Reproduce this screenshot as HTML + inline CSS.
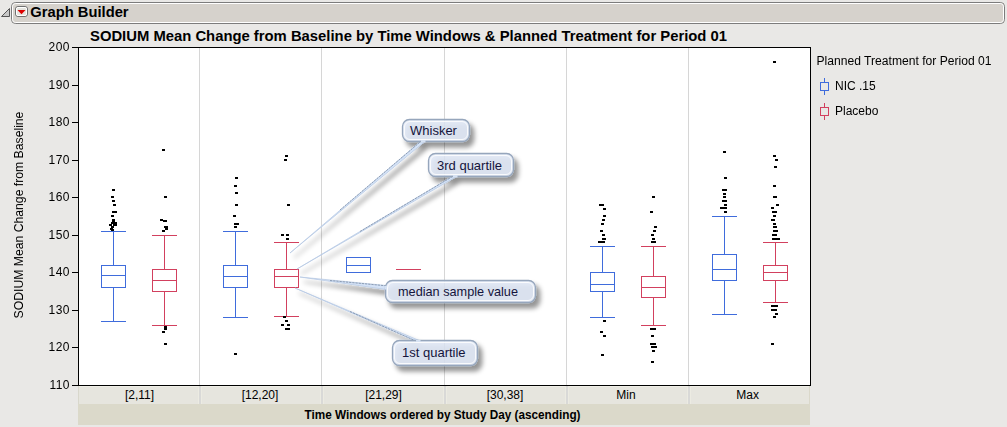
<!DOCTYPE html>
<html><head><meta charset="utf-8">
<style>
html,body{margin:0;padding:0;}
body{width:1007px;height:427px;overflow:hidden;background:#e9e8e6;position:relative;font-family:"Liberation Sans",Arial,sans-serif;}
svg{position:absolute;left:0;top:0;}
svg text{font-family:"Liberation Sans",Arial,sans-serif;}
</style></head><body>
<svg width="1007" height="427" viewBox="0 0 1007 427">
<defs>
  <filter id="sh" x="-20%" y="-30%" width="150%" height="180%">
    <feGaussianBlur in="SourceAlpha" stdDeviation="2.6"/>
    <feOffset dx="3.5" dy="4.5" result="b"/>
    <feComponentTransfer><feFuncA type="linear" slope="0.5"/></feComponentTransfer>
    <feMerge><feMergeNode/><feMergeNode in="SourceGraphic"/></feMerge>
  </filter>
</defs>
<!-- header -->
<path d="M1.5 16.5 L9.5 8.5 L9.5 16.5 Z" fill="#c8c8c8" stroke="#555" stroke-width="1"/>
<rect x="11.5" y="2.5" width="993" height="21" rx="4" fill="#d6d2cc" stroke="#7c7c7c" stroke-width="1"/>
<rect x="12.5" y="3.5" width="991" height="19" rx="3" fill="none" stroke="#fff" stroke-width="1"/>
<rect x="15.5" y="6.5" width="12" height="10" rx="2.5" fill="#e6e4de" stroke="#707070" stroke-width="1"/>
<rect x="16.5" y="7.5" width="10" height="8" rx="1.5" fill="none" stroke="#fff" stroke-width="1"/>
<path d="M17.5 10 L25.5 10 L21.5 14.3 Z" fill="#dd0000"/>
<text x="30.3" y="16.7" font-size="15" font-weight="bold" fill="#000" textLength="98.3" lengthAdjust="spacingAndGlyphs">Graph Builder</text>

<!-- chart title -->
<text x="90" y="41" font-size="15" font-weight="bold" fill="#000" textLength="637" lengthAdjust="spacingAndGlyphs">SODIUM Mean Change from Baseline by Time Windows &amp; Planned Treatment for Period 01</text>

<!-- plot area -->
<rect x="78" y="47" width="732" height="338" fill="#fff"/>
<g stroke="#d6d6d6" stroke-width="1" shape-rendering="crispEdges">
  <line x1="199.5" y1="48" x2="199.5" y2="385"/>
  <line x1="321.5" y1="48" x2="321.5" y2="385"/>
  <line x1="444.5" y1="48" x2="444.5" y2="385"/>
  <line x1="566.5" y1="48" x2="566.5" y2="385"/>
  <line x1="688.5" y1="48" x2="688.5" y2="385"/>
</g>

<!-- x label row -->
<rect x="78" y="386" width="732" height="18" fill="#e6e5de"/>
<g shape-rendering="crispEdges">
<rect x="79" y="386" width="730" height="1" fill="#efeee6"/>
<rect x="78" y="386" width="1" height="18" fill="#d8d7cc"/>
<rect x="809" y="386" width="1" height="18" fill="#dad8ca"/>
<rect x="198" y="386" width="1" height="19" fill="#ecebe2"/><rect x="199" y="386" width="2" height="19" fill="#d9d9d7"/><rect x="201" y="386" width="1" height="19" fill="#ecebe2"/>
<rect x="320" y="386" width="1" height="19" fill="#ecebe2"/><rect x="321" y="386" width="2" height="19" fill="#d9d9d7"/><rect x="323" y="386" width="1" height="19" fill="#ecebe2"/>
<rect x="443" y="386" width="1" height="19" fill="#ecebe2"/><rect x="444" y="386" width="2" height="19" fill="#d9d9d7"/><rect x="446" y="386" width="1" height="19" fill="#ecebe2"/>
<rect x="565" y="386" width="1" height="19" fill="#ecebe2"/><rect x="566" y="386" width="2" height="19" fill="#d9d9d7"/><rect x="568" y="386" width="1" height="19" fill="#ecebe2"/>
<rect x="687" y="386" width="1" height="19" fill="#ecebe2"/><rect x="688" y="386" width="2" height="19" fill="#d9d9d7"/><rect x="690" y="386" width="1" height="19" fill="#ecebe2"/>
</g>
<rect x="78" y="404" width="732" height="21" fill="#dbd9ca"/>

<g style="will-change:transform">
<text x="69.7" y="389.2" font-size="12" text-anchor="end" fill="#000" letter-spacing="0.35">110</text>
<text x="69.7" y="351.2" font-size="12" text-anchor="end" fill="#000" letter-spacing="0.35">120</text>
<text x="69.7" y="314.2" font-size="12" text-anchor="end" fill="#000" letter-spacing="0.35">130</text>
<text x="69.7" y="276.2" font-size="12" text-anchor="end" fill="#000" letter-spacing="0.35">140</text>
<text x="69.7" y="239.2" font-size="12" text-anchor="end" fill="#000" letter-spacing="0.35">150</text>
<text x="69.7" y="201.2" font-size="12" text-anchor="end" fill="#000" letter-spacing="0.35">160</text>
<text x="69.7" y="164.2" font-size="12" text-anchor="end" fill="#000" letter-spacing="0.35">170</text>
<text x="69.7" y="126.2" font-size="12" text-anchor="end" fill="#000" letter-spacing="0.35">180</text>
<text x="69.7" y="89.2" font-size="12" text-anchor="end" fill="#000" letter-spacing="0.35">190</text>
<text x="69.7" y="51.2" font-size="12" text-anchor="end" fill="#000" letter-spacing="0.35">200</text>
</g>
<line x1="72" y1="385.5" x2="78" y2="385.5" stroke="#000" shape-rendering="crispEdges"/>
<line x1="72" y1="347.5" x2="78" y2="347.5" stroke="#000" shape-rendering="crispEdges"/>
<line x1="72" y1="310.5" x2="78" y2="310.5" stroke="#000" shape-rendering="crispEdges"/>
<line x1="72" y1="272.5" x2="78" y2="272.5" stroke="#000" shape-rendering="crispEdges"/>
<line x1="72" y1="235.5" x2="78" y2="235.5" stroke="#000" shape-rendering="crispEdges"/>
<line x1="72" y1="197.5" x2="78" y2="197.5" stroke="#000" shape-rendering="crispEdges"/>
<line x1="72" y1="160.5" x2="78" y2="160.5" stroke="#000" shape-rendering="crispEdges"/>
<line x1="72" y1="122.5" x2="78" y2="122.5" stroke="#000" shape-rendering="crispEdges"/>
<line x1="72" y1="85.5" x2="78" y2="85.5" stroke="#000" shape-rendering="crispEdges"/>
<line x1="72" y1="47.5" x2="78" y2="47.5" stroke="#000" shape-rendering="crispEdges"/>
<g shape-rendering="crispEdges" stroke-width="1">
<rect x="101.5" y="265.5" width="24" height="22" fill="none" stroke="#3f6cdc"/>
<line x1="101" y1="275.5" x2="126" y2="275.5" stroke="#3f6cdc"/>
<line x1="113.5" y1="231" x2="113.5" y2="265" stroke="#3f6cdc"/>
<line x1="113.5" y1="288" x2="113.5" y2="321" stroke="#3f6cdc"/>
<line x1="101" y1="231.5" x2="126" y2="231.5" stroke="#3f6cdc"/>
<line x1="101" y1="321.5" x2="126" y2="321.5" stroke="#3f6cdc"/>
<rect x="152.5" y="269.5" width="24" height="22" fill="none" stroke="#d2405e"/>
<line x1="152" y1="280.5" x2="177" y2="280.5" stroke="#d2405e"/>
<line x1="164.5" y1="235" x2="164.5" y2="269" stroke="#d2405e"/>
<line x1="164.5" y1="292" x2="164.5" y2="325" stroke="#d2405e"/>
<line x1="152" y1="235.5" x2="177" y2="235.5" stroke="#d2405e"/>
<line x1="152" y1="325.5" x2="177" y2="325.5" stroke="#d2405e"/>
<rect x="223.5" y="265.5" width="24" height="22" fill="none" stroke="#3f6cdc"/>
<line x1="223" y1="276.5" x2="248" y2="276.5" stroke="#3f6cdc"/>
<line x1="235.5" y1="231" x2="235.5" y2="265" stroke="#3f6cdc"/>
<line x1="235.5" y1="288" x2="235.5" y2="317" stroke="#3f6cdc"/>
<line x1="223" y1="231.5" x2="248" y2="231.5" stroke="#3f6cdc"/>
<line x1="223" y1="317.5" x2="248" y2="317.5" stroke="#3f6cdc"/>
<rect x="274.5" y="269.5" width="24" height="18" fill="none" stroke="#d2405e"/>
<line x1="274" y1="276.5" x2="299" y2="276.5" stroke="#d2405e"/>
<line x1="286.5" y1="242" x2="286.5" y2="269" stroke="#d2405e"/>
<line x1="286.5" y1="288" x2="286.5" y2="316" stroke="#d2405e"/>
<line x1="274" y1="242.5" x2="299" y2="242.5" stroke="#d2405e"/>
<line x1="274" y1="316.5" x2="299" y2="316.5" stroke="#d2405e"/>
<rect x="346.5" y="257.5" width="24" height="15" fill="none" stroke="#3f6cdc"/>
<line x1="346" y1="265.5" x2="371" y2="265.5" stroke="#3f6cdc"/>
<rect x="590.5" y="272.5" width="24" height="19" fill="none" stroke="#3f6cdc"/>
<line x1="590" y1="284.5" x2="615" y2="284.5" stroke="#3f6cdc"/>
<line x1="602.5" y1="246" x2="602.5" y2="272" stroke="#3f6cdc"/>
<line x1="602.5" y1="292" x2="602.5" y2="317" stroke="#3f6cdc"/>
<line x1="590" y1="246.5" x2="615" y2="246.5" stroke="#3f6cdc"/>
<line x1="590" y1="317.5" x2="615" y2="317.5" stroke="#3f6cdc"/>
<rect x="641.5" y="276.5" width="24" height="21" fill="none" stroke="#d2405e"/>
<line x1="641" y1="287.5" x2="666" y2="287.5" stroke="#d2405e"/>
<line x1="653.5" y1="246" x2="653.5" y2="276" stroke="#d2405e"/>
<line x1="653.5" y1="298" x2="653.5" y2="325" stroke="#d2405e"/>
<line x1="641" y1="246.5" x2="666" y2="246.5" stroke="#d2405e"/>
<line x1="641" y1="325.5" x2="666" y2="325.5" stroke="#d2405e"/>
<rect x="712.5" y="254.5" width="24" height="26" fill="none" stroke="#3f6cdc"/>
<line x1="712" y1="269.5" x2="737" y2="269.5" stroke="#3f6cdc"/>
<line x1="724.5" y1="216" x2="724.5" y2="254" stroke="#3f6cdc"/>
<line x1="724.5" y1="281" x2="724.5" y2="314" stroke="#3f6cdc"/>
<line x1="712" y1="216.5" x2="737" y2="216.5" stroke="#3f6cdc"/>
<line x1="712" y1="314.5" x2="737" y2="314.5" stroke="#3f6cdc"/>
<rect x="763.5" y="265.5" width="24" height="15" fill="none" stroke="#d2405e"/>
<line x1="763" y1="272.5" x2="788" y2="272.5" stroke="#d2405e"/>
<line x1="775.5" y1="242" x2="775.5" y2="265" stroke="#d2405e"/>
<line x1="775.5" y1="281" x2="775.5" y2="302" stroke="#d2405e"/>
<line x1="763" y1="242.5" x2="788" y2="242.5" stroke="#d2405e"/>
<line x1="763" y1="302.5" x2="788" y2="302.5" stroke="#d2405e"/>
<line x1="396" y1="269.5" x2="421" y2="269.5" stroke="#d2405e"/>
</g>
<g fill="#000" shape-rendering="crispEdges">
<rect x="112" y="189" width="3" height="2"/>
<rect x="111" y="196" width="3" height="2"/>
<rect x="112" y="200" width="3" height="2"/>
<rect x="113" y="204" width="3" height="2"/>
<rect x="112" y="211" width="5" height="2"/>
<rect x="111" y="215" width="3" height="2"/>
<rect x="112" y="219" width="3" height="2"/>
<rect x="112" y="220" width="3" height="2"/>
<rect x="111" y="222" width="3" height="2"/>
<rect x="114" y="222" width="3" height="2"/>
<rect x="109" y="224" width="3" height="2"/>
<rect x="113" y="224" width="4" height="2"/>
<rect x="111" y="226" width="3" height="2"/>
<rect x="110" y="228" width="3" height="2"/>
<rect x="111" y="229" width="3" height="2"/>
<rect x="162" y="149" width="3" height="2"/>
<rect x="164" y="196" width="3" height="2"/>
<rect x="160" y="219" width="3" height="2"/>
<rect x="163" y="220" width="4" height="2"/>
<rect x="164" y="226" width="4" height="2"/>
<rect x="165" y="228" width="3" height="2"/>
<rect x="162" y="230" width="3" height="2"/>
<rect x="164" y="326" width="3" height="2"/>
<rect x="164" y="328" width="3" height="2"/>
<rect x="162" y="331" width="3" height="2"/>
<rect x="164" y="343" width="3" height="2"/>
<rect x="235" y="177" width="3" height="2"/>
<rect x="234" y="185" width="3" height="2"/>
<rect x="235" y="192" width="3" height="2"/>
<rect x="235" y="204" width="3" height="2"/>
<rect x="233" y="215" width="3" height="2"/>
<rect x="234" y="223" width="5" height="2"/>
<rect x="234" y="226" width="3" height="2"/>
<rect x="234" y="353" width="3" height="2"/>
<rect x="285" y="155" width="3" height="2"/>
<rect x="284" y="159" width="3" height="2"/>
<rect x="287" y="204" width="3" height="2"/>
<rect x="281" y="234" width="3" height="2"/>
<rect x="286" y="234" width="3" height="2"/>
<rect x="286" y="238" width="3" height="2"/>
<rect x="283" y="316" width="3" height="2"/>
<rect x="285" y="320" width="3" height="2"/>
<rect x="281" y="324" width="3" height="2"/>
<rect x="287" y="324" width="3" height="2"/>
<rect x="285" y="328" width="5" height="2"/>
<rect x="599" y="204" width="5" height="2"/>
<rect x="603" y="208" width="3" height="2"/>
<rect x="603" y="215" width="3" height="2"/>
<rect x="602" y="219" width="3" height="2"/>
<rect x="601" y="223" width="3" height="2"/>
<rect x="600" y="230" width="3" height="2"/>
<rect x="602" y="234" width="3" height="2"/>
<rect x="602" y="238" width="4" height="2"/>
<rect x="598" y="241" width="7" height="2"/>
<rect x="603" y="320" width="3" height="2"/>
<rect x="600" y="331" width="3" height="2"/>
<rect x="603" y="335" width="3" height="2"/>
<rect x="601" y="354" width="3" height="2"/>
<rect x="652" y="196" width="3" height="2"/>
<rect x="650" y="211" width="3" height="2"/>
<rect x="654" y="226" width="3" height="2"/>
<rect x="653" y="230" width="3" height="2"/>
<rect x="651" y="234" width="3" height="2"/>
<rect x="652" y="238" width="3" height="2"/>
<rect x="651" y="241" width="5" height="2"/>
<rect x="650" y="328" width="6" height="2"/>
<rect x="651" y="335" width="3" height="2"/>
<rect x="650" y="343" width="3" height="2"/>
<rect x="653" y="343" width="3" height="2"/>
<rect x="651" y="346" width="3" height="2"/>
<rect x="654" y="346" width="3" height="2"/>
<rect x="652" y="350" width="3" height="2"/>
<rect x="651" y="361" width="3" height="2"/>
<rect x="723" y="151" width="3" height="2"/>
<rect x="724" y="177" width="3" height="2"/>
<rect x="722" y="189" width="5" height="2"/>
<rect x="723" y="193" width="3" height="2"/>
<rect x="723" y="196" width="3" height="2"/>
<rect x="722" y="200" width="5" height="2"/>
<rect x="724" y="204" width="3" height="2"/>
<rect x="720" y="207" width="7" height="2"/>
<rect x="724" y="211" width="3" height="2"/>
<rect x="773" y="61" width="3" height="2"/>
<rect x="773" y="155" width="3" height="2"/>
<rect x="775" y="159" width="3" height="2"/>
<rect x="774" y="166" width="3" height="2"/>
<rect x="773" y="185" width="3" height="2"/>
<rect x="773" y="196" width="4" height="2"/>
<rect x="776" y="204" width="3" height="2"/>
<rect x="771" y="207" width="3" height="2"/>
<rect x="772" y="211" width="5" height="2"/>
<rect x="773" y="215" width="3" height="2"/>
<rect x="771" y="219" width="4" height="2"/>
<rect x="773" y="223" width="3" height="2"/>
<rect x="773" y="226" width="4" height="2"/>
<rect x="773" y="230" width="5" height="2"/>
<rect x="772" y="234" width="5" height="2"/>
<rect x="772" y="238" width="8" height="2"/>
<rect x="771" y="305" width="7" height="2"/>
<rect x="771" y="309" width="6" height="2"/>
<rect x="775" y="313" width="3" height="2"/>
<rect x="773" y="316" width="3" height="2"/>
<rect x="771" y="343" width="3" height="2"/>
</g>
<!-- frame -->
<g stroke="#000" stroke-width="1" shape-rendering="crispEdges" fill="none">
  <line x1="78.5" y1="47" x2="78.5" y2="386"/>
  <line x1="78" y1="47.5" x2="811" y2="47.5"/>
  <line x1="810.5" y1="47" x2="810.5" y2="386"/>
  <line x1="78" y1="385.5" x2="811" y2="385.5"/>
</g>

<!-- x labels -->
<g font-size="12" fill="#000" text-anchor="middle">
  <text x="139.5" y="399">[2,11]</text>
  <text x="260" y="399">[12,20]</text>
  <text x="383.5" y="399">[21,29]</text>
  <text x="505" y="399">[30,38]</text>
  <text x="626" y="399">Min</text>
  <text x="747.7" y="399">Max</text>
</g>
<text x="442.5" y="419" font-size="12" font-weight="bold" text-anchor="middle" fill="#000" textLength="276" lengthAdjust="spacingAndGlyphs">Time Windows ordered by Study Day (ascending)</text>

<!-- y title -->
<g style="will-change:transform">
<text transform="translate(23,215) rotate(-90)" font-size="12" text-anchor="middle" fill="#000" textLength="206.8" lengthAdjust="spacingAndGlyphs">SODIUM Mean Change from Baseline</text>
</g>

<!-- legend -->
<g style="will-change:transform">
<text x="816.5" y="65" font-size="12" fill="#000" textLength="175" lengthAdjust="spacingAndGlyphs">Planned Treatment for Period 01</text>
</g>
<g shape-rendering="crispEdges">
  <line x1="824.5" y1="78" x2="824.5" y2="95" stroke="#3f6cdc"/>
  <rect x="820.5" y="82.5" width="8" height="8" fill="#e9e8e6" stroke="#3f6cdc"/>
  <line x1="824.5" y1="103" x2="824.5" y2="120" stroke="#d2405e"/>
  <rect x="820.5" y="107.5" width="8" height="8" fill="#e9e8e6" stroke="#d2405e"/>
</g>
<g style="will-change:transform">
<text x="835" y="90" font-size="12" fill="#000">NIC .15</text>
<text x="835" y="115" font-size="12" fill="#000">Placebo</text>
</g>

<!-- callouts -->
<g filter="url(#sh)">
  <g fill="#d4e2f6" stroke="#b4c7e2" stroke-width="0.7">
    <path d="M421 141 L290 253 L425.5 141 Z"/>
    <path d="M453 176 L297 269 L457.5 176 Z"/>
    <path d="M386 285.5 L300 277 L386 289.5 Z"/>
    <path d="M415.5 341 L295 288 L420.5 341 Z"/>
  </g>
  <g stroke="#8696ae" stroke-width="0.9" stroke-dasharray="2.2 1" fill="none">
    <path d="M340 210 L421.3 141"/>
    <path d="M360 231.5 L453.3 176"/>
    <path d="M330 280.5 L386 285.8"/>
    <path d="M350 311.5 L415.8 341"/>
  </g>
  <g fill="#dee7f5" fill-opacity="0.82" stroke="#96a6bc" stroke-width="1.3">
    <rect x="402.5" y="119.5" width="67" height="22" rx="7"/>
    <rect x="428.5" y="153.5" width="85" height="23" rx="7"/>
    <rect x="385.5" y="280.5" width="150" height="22" rx="7"/>
    <rect x="392.5" y="340.5" width="85" height="25" rx="7"/>
  </g>
</g>
<g fill="#d6e2f3">
  <rect x="421" y="140" width="4.5" height="2.5"/>
  <rect x="453" y="175" width="4.5" height="2.5"/>
  <rect x="385" y="286" width="2.5" height="3.5"/>
  <rect x="416" y="340" width="4.5" height="2.5"/>
</g>
<g fill="none" stroke="#fff" stroke-width="1" opacity="0.85">
  <rect x="404.5" y="121.5" width="63" height="18" rx="5.5"/>
  <rect x="430.5" y="155.5" width="81" height="19" rx="5.5"/>
  <rect x="387.5" y="282.5" width="146" height="18" rx="5.5"/>
  <rect x="394.5" y="342.5" width="81" height="21" rx="5.5"/>
</g>
<g font-size="13" fill="#14143c">
  <text x="410" y="135">Whisker</text>
  <text x="437" y="169.5">3rd quartile</text>
  <text x="398" y="296" textLength="120" lengthAdjust="spacingAndGlyphs">median sample value</text>
  <text x="402" y="357">1st quartile</text>
</g>

</svg>
</body></html>
